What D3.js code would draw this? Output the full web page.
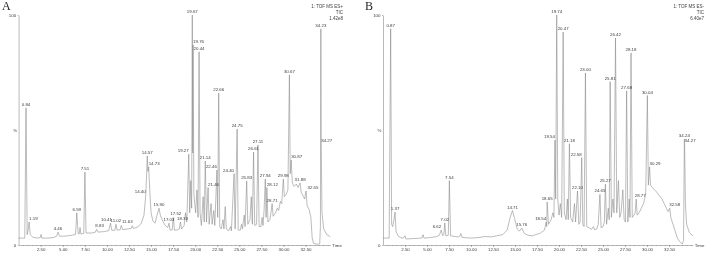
<!DOCTYPE html>
<html>
<head>
<meta charset="utf-8">
<script src="https://d3js.org/d3.v7.min.js"></script>
<style>
  body { margin: 0; background: #fff; }
  svg { will-change: transform; }
  text { font-family: "Liberation Sans", Arial, sans-serif; fill: #3a3a3a; opacity: 0.99; }
  .letter { font-family: "Liberation Serif", "Times New Roman", serif; font-size: 12px; fill: #222; }
  .peaklabel { font-size: 4.4px; }
  .info { font-size: 4.5px; }
  .tick text { font-size: 4.4px; fill: #3a3a3a; }
  .tick line, .domain { stroke: #8a8a8a; stroke-width: 0.6; }
</style>
</head>
<body>
<script>
// x axis tick labels (minutes)
var timeTicks = ["2.50", "5.00", "7.50", "10.00", "12.50", "15.00", "17.50", "20.00", "22.50", "25.00", "27.50", "30.00", "32.50"];

// panel A : ES+ TIC, [time (min), relative intensity (%)]
var traceA = [
  [0.00,3.0],[0.70,3.0],[0.84,59.6],[0.97,4.5],[1.08,6.5],[1.19,10.0],[1.32,4.5],[1.60,3.4],[2.10,3.0],[2.45,3.2],
  [2.55,4.6],[2.65,3.0],[3.30,3.0],[3.90,3.2],[4.30,3.8],[4.46,5.6],[4.65,3.8],[5.40,3.9],[6.10,4.3],[6.45,4.6],
  [6.59,14.0],[6.75,4.8],[6.88,5.0],[6.96,7.6],[7.05,4.8],[7.38,5.0],[7.51,31.7],[7.64,5.2],[8.30,5.2],[8.70,5.6],
  [8.83,6.8],[9.00,5.6],[9.60,5.8],[10.20,6.2],[10.41,9.5],[10.55,6.4],[10.90,6.4],[11.02,9.0],[11.15,6.5],[11.50,6.6],
  [11.63,8.5],[11.78,6.7],[12.40,7.0],[12.75,7.2],[12.88,8.4],[13.00,7.2],[13.50,7.8],[13.90,9.5],[14.20,13],[14.40,21.7],
  [14.50,31],[14.57,38.7],[14.65,32],[14.73,34.0],[14.85,24],[15.00,14],[15.20,10.5],[15.45,9.5],[15.65,12.5],[15.90,16.0],
  [16.05,13],[16.25,11],[16.60,8.5],[16.90,7.6],[17.03,9.5],[17.15,6.5],[17.40,6.6],[17.52,12.0],[17.65,6.4],[18.00,6.6],
  [18.20,7.0],[18.33,10.0],[18.45,7.0],[18.75,8.5],[18.90,14],[19.05,10],[19.27,39.5],[19.38,14],[19.50,28],[19.60,16],
  [19.67,100],[19.72,40],[19.76,87],[19.85,22],[20.05,14],[20.20,24],[20.32,12],[20.44,84],[20.55,14],[20.70,8.5],
  [20.90,21],[21.02,10],[21.14,36.5],[21.28,10],[21.46,25],[21.58,9],[21.80,18],[21.92,9],[22.10,15],[22.22,8.5],
  [22.46,32.6],[22.55,12],[22.66,66],[22.78,8],[22.95,7],[23.15,11],[23.25,7],[23.40,16.7],[23.52,7],[23.80,6.2],
  [24.00,8],[24.10,6.2],[24.40,31],[24.52,7],[24.75,50.4],[24.87,6.5],[25.10,6.4],[25.25,9],[25.35,7],[25.55,13],
  [25.65,8],[25.83,27.8],[25.96,9],[26.20,11],[26.35,21],[26.47,9],[26.61,40.4],[26.74,8.5],[26.95,9],[27.11,43.5],
  [27.24,8],[27.45,8],[27.58,12],[27.68,8.5],[27.80,15],[27.94,28.7],[28.03,12],[28.12,25],[28.24,10],[28.45,11],
  [28.58,14],[28.71,18],[28.82,12.5],[29.10,14],[29.30,16],[29.45,15],[29.65,19],[29.80,18],[29.98,28.7],[30.10,21],
  [30.30,22],[30.50,24],[30.67,74],[30.76,31],[30.87,37],[31.00,27],[31.20,25.5],[31.45,26.5],[31.65,25],[31.88,27],
  [32.00,23],[32.20,21.5],[32.40,20],[32.55,23.5],[32.68,17],[32.90,15.5],[33.10,12],[33.25,3],[33.40,0.8],[33.80,0.3],
  [34.10,0.5],[34.18,8],[34.23,94],[34.27,44],[34.36,14],[34.55,7],[34.90,4.5],[35.30,3.6]
];
var peaksA = ["0.84","1.19","4.46","6.59","7.51","8.83","10.41","11.02","11.63","14.40","14.57","14.73","15.90","17.03",
  "17.52","18.33","19.27","19.67","19.76","20.44","21.14","21.46","22.46","22.66","24.40","24.75","25.83","26.61","27.11",
  "27.94","28.12","28.71","29.98","30.67","30.87","31.88","32.55","34.23","34.27"];
var infoA = ["1: TOF MS ES+", "TIC", "1.42e8"];

// panel B : ES- TIC
var traceB = [
  [0.00,3.0],[0.70,3.0],[0.87,94],[0.98,9],[1.10,8],[1.25,11],[1.37,14.3],[1.48,6],[1.70,4],[2.00,3.2],
  [2.30,3.0],[2.50,4.0],[2.60,2.6],[3.40,2.8],[4.40,3.0],[4.55,4.5],[4.65,3.0],[5.30,3.2],[6.00,3.6],[6.40,4.2],
  [6.62,6.5],[6.78,4.0],[6.92,4.6],[7.02,9.6],[7.14,4.0],[7.42,4.2],[7.54,28.0],[7.68,4.0],[8.30,3.6],[8.70,3.6],
  [8.85,5.0],[9.00,3.3],[10.00,3.0],[11.00,3.3],[11.60,3.7],[12.30,3.5],[12.90,4.0],[13.60,4.5],[14.10,6.5],[14.45,12],
  [14.71,15.0],[14.95,11.5],[15.25,7.0],[15.50,6.0],[15.76,7.4],[16.05,5.0],[16.50,4.2],[17.00,4.0],[17.40,4.6],[17.80,5.0],
  [18.10,5.8],[18.35,6.5],[18.54,10.0],[18.60,8],[18.65,18.7],[18.80,9],[19.10,11],[19.30,14],[19.42,12],[19.54,45.6],
  [19.62,20],[19.74,100],[19.86,20],[20.00,13],[20.15,18],[20.30,12],[20.47,92.6],[20.60,14],[20.80,11],[20.95,20],
  [21.05,11],[21.18,44],[21.32,12],[21.55,10],[21.75,18],[21.88,10],[22.10,23.5],[22.25,9],[22.40,10],[22.58,38],
  [22.70,9],[22.85,8],[23.00,74.8],[23.15,8],[23.40,7.5],[23.70,6.8],[23.90,8],[24.05,6.6],[24.30,7],[24.45,9],
  [24.65,22],[24.78,7.5],[25.00,8],[25.15,10],[25.27,26.5],[25.40,9],[25.60,16],[25.70,11],[25.81,71],[25.95,12],
  [26.12,20],[26.25,14],[26.42,90],[26.56,14],[26.75,28],[26.90,12],[27.05,14],[27.25,24],[27.40,11],[27.55,10],
  [27.68,67],[27.82,10],[27.98,20],[28.06,12],[28.18,83.5],[28.32,12],[28.50,13],[28.65,14],[28.77,20],[28.88,13],
  [29.10,14],[29.35,16],[29.60,18],[29.85,22],[30.04,65],[30.15,26],[30.29,34],[30.40,26],[30.60,25],[30.85,24],
  [31.10,23],[31.40,21.5],[31.70,20],[31.95,18],[32.20,16],[32.40,14.5],[32.58,16],[32.70,12],[32.95,9],[33.20,6],
  [33.45,3],[33.70,1.5],[34.00,0.4],[34.15,2],[34.24,46],[34.27,44],[34.36,18],[34.50,9],[34.80,5.5],[35.20,4]
];
var peaksB = ["0.87","1.37","6.62","7.02","7.54","14.71","15.76","18.54","18.65","19.54","19.74","20.47","21.18",
  "22.10","22.58","23.00","24.65","25.27","25.81","26.42","27.68","28.18","28.77","30.04","30.29","32.58","34.24","34.27"];
var infoB = ["1: TOF MS ES-", "TIC", "6.40e7"];

// label nudges (px) where the original spreads crowded labels apart
var shiftA = {"8.83": 3, "10.41": -4, "11.63": 6, "17.52": 2.5, "18.33": 2, "32.55": 7};
var shiftB = {"28.77": 4, "32.58": 5};

var svg = d3.select("body").append("svg")
  .attr("width", 708)
  .attr("height", 254);

function drawPanel(cfg) {
  var g = svg.append("g");
  var x = d3.scaleLinear().domain([0, cfg.tMax]).range([cfg.left, cfg.right]);
  var y = d3.scaleLinear().domain([0, 100]).range([245, 15]);

  // axes
  g.append("g")
    .attr("transform", "translate(0,245)")
    .call(d3.axisBottom(x)
      .tickValues(timeTicks.map(Number))
      .tickFormat(function(d, i) { return timeTicks[i]; })
      .tickSize(2).tickSizeOuter(0).tickPadding(1));
  g.append("g")
    .attr("transform", "translate(0,245)")
    .call(d3.axisBottom(x).tickValues(d3.range(0.5, cfg.tMax, 0.5)).tickFormat("").tickSize(1).tickSizeOuter(0))
    .select(".domain").remove();
  g.append("g")
    .attr("transform", "translate(" + cfg.left + ",0)")
    .call(d3.axisLeft(y).tickValues([0, 100]).tickSize(1).tickSizeOuter(0).tickPadding(1.5));

  g.append("text")
    .attr("x", cfg.left - 3.5).attr("y", y(50) + 1.5)
    .attr("text-anchor", "middle")
    .attr("font-size", "4.4px")
    .text("%");
  g.append("text")
    .attr("x", cfg.right + 2).attr("y", 247)
    .attr("font-size", "4.4px")
    .text("Time");

  // trace
  g.append("path")
    .datum(cfg.trace)
    .attr("fill", "none")
    .attr("stroke", "#858585")
    .attr("stroke-width", 0.55)
    .attr("stroke-linejoin", "round")
    .attr("d", d3.line().x(function(d) { return x(d[0]); }).y(function(d) { return y(d[1]); }));

  // peak labels
  var pts = cfg.peaks.map(function(lbl) {
    var p = cfg.trace.find(function(d) { return d[0] === +lbl; });
    return {lbl: lbl, t: p[0], v: p[1]};
  });
  pts.forEach(function(p) {
    p.anchor = "middle";
    pts.forEach(function(q) {
      if (q === p || q.v <= p.v || Math.abs(q.t - p.t) > 0.45) return;
      p.anchor = q.t > p.t ? "end" : "start";
    });
  });
  g.selectAll(".peaklabel").data(pts).enter()
    .append("text")
    .classed("peaklabel", true)
    .attr("x", function(d) { return x(d.t) + (cfg.shift[d.lbl] || 0); })
    .attr("y", function(d) { return y(d.v) - 2; })
    .attr("text-anchor", function(d) { return d.anchor; })
    .text(function(d) { return d.lbl; });

  g.selectAll(".info").data(cfg.info).enter()
    .append("text")
    .classed("info", true)
    .attr("x", cfg.infoX)
    .attr("y", function(d, i) { return 8.3 + i * 5.8; })
    .attr("text-anchor", "end")
    .text(function(d) { return d; });

  g.append("text")
    .classed("letter", true)
    .attr("x", cfg.letterX).attr("y", 10)
    .text(cfg.letter);
}

drawPanel({letter: "A", letterX: 2, trace: traceA, peaks: peaksA, info: infoA, shift: shiftA,
  tMax: 35.3, left: 18.6, right: 330.3, infoX: 343});
drawPanel({letter: "B", letterX: 365, trace: traceB, peaks: peaksB, info: infoB, shift: shiftB,
  tMax: 35.2, left: 383, right: 692.8, infoX: 704});
</script>
</body>
</html>
